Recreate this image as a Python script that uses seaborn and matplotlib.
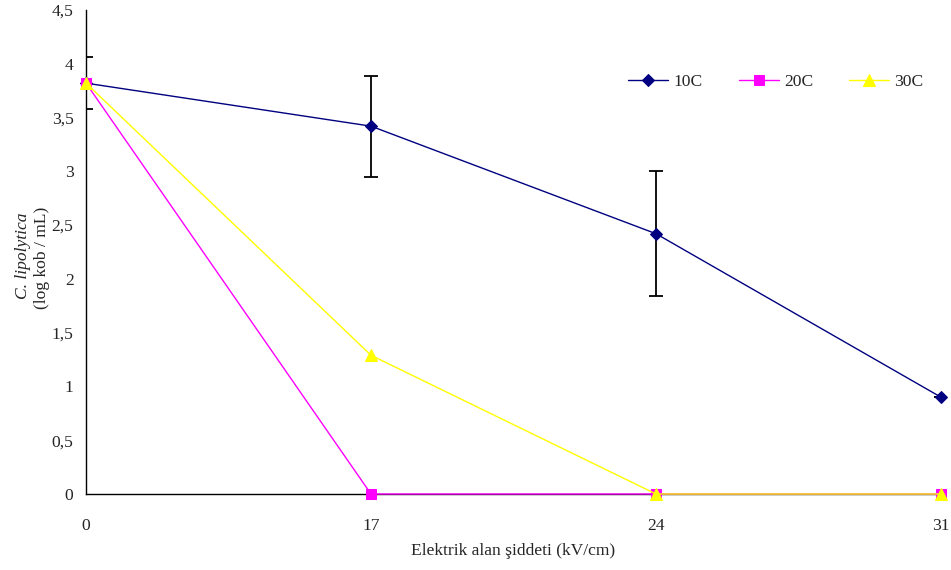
import matplotlib
matplotlib.use("Agg")
import matplotlib.pyplot as plt
import seaborn as sns
import pandas as pd
import numpy as np

# Data
field_labels = ["0", "17", "24", "31"]
series_names = ["10C", "20C", "30C"]
vals_10c = [3.82, 3.42, 2.42, 0.90]
vals_20c = [3.82, 0.0, 0.0, 0.0]
vals_30c = [3.82, 1.29, 0.0, 0.0]
err_10c = [0.24, 0.47, 0.58, 0.0]
yticks = [0, 0.5, 1, 1.5, 2, 2.5, 3, 3.5, 4, 4.5]
ytick_labels = ["0", "0,5", "1", "1,5", "2", "2,5", "3", "3,5", "4", "4,5"]

sns.set_style("white")
plt.rcParams['font.family'] = ['Liberation Serif', 'DejaVu Serif']
FS = 12.6

rows = []
for name, vals in zip(series_names, [vals_10c, vals_20c, vals_30c]):
    for i, v in enumerate(vals):
        rows.append({"pos": i, "val": v, "series": name})
df = pd.DataFrame(rows)

fig = plt.figure(figsize=(9.51, 5.70), dpi=100)
ax = fig.add_axes([86/951, 1-494/570, (941-86)/951, (494-10)/570])

palette = {"10C": "#000080", "20C": "#FF00FF", "30C": "#FFFF00"}
markers = {"10C": "D", "20C": "s", "30C": "^"}
sizes = {"10C": 6.5, "20C": 7, "30C": 8.5}

# error bars first (behind markers)
ax.errorbar(range(len(field_labels)), vals_10c, yerr=err_10c, fmt="none",
            ecolor="black", elinewidth=1.3, capsize=5, capthick=1.3, zorder=2)

for name in series_names:
    sub = df[df["series"] == name]
    sns.lineplot(data=sub, x="pos", y="val", ax=ax, color=palette[name],
                 marker=markers[name], markersize=sizes[name],
                 markeredgecolor=palette[name], linewidth=1.0,
                 label=name, clip_on=False, zorder=3)

ax.set_xlim(0, 3)
ax.set_ylim(0, 4.5)
ax.set_xticks(range(len(field_labels)))
ax.set_xticklabels(field_labels, fontsize=FS)
ax.set_yticks(yticks)
ax.set_yticklabels(ytick_labels, fontsize=FS)
ax.tick_params(axis="y", direction="out", length=5, width=1, color="black", pad=4)
ax.tick_params(axis="x", direction="out", length=0, pad=17)
ax.set_xlabel("")
ax.set_ylabel("")

for s in ["top", "right"]:
    ax.spines[s].set_visible(False)
ax.spines["left"].set_color("black")
ax.spines["bottom"].set_color("black")
ax.spines["left"].set_linewidth(1)
ax.spines["bottom"].set_linewidth(1)
ax.spines["bottom"].set_zorder(1)

fig.text(513/951, 1-551/570, "Elektrik alan şiddeti (kV/cm)", ha="center", va="center", fontsize=FS)
fig.text(23/951, 1-256/570, "C. lipolytica", rotation=90, ha="center", va="center",
         fontsize=FS, style="italic")
fig.text(42/951, 1-258/570, "(log kob / mL)", rotation=90, ha="center", va="center", fontsize=FS)

leg = ax.legend(loc="center left", bbox_to_anchor=(628/951, 1-82/570),
                bbox_transform=fig.transFigure, borderpad=0, borderaxespad=0,
                ncol=3, frameon=False, fontsize=FS, handlelength=2.3, columnspacing=2.05,
                handletextpad=0.3)

fig.savefig("out.png", dpi=100)
